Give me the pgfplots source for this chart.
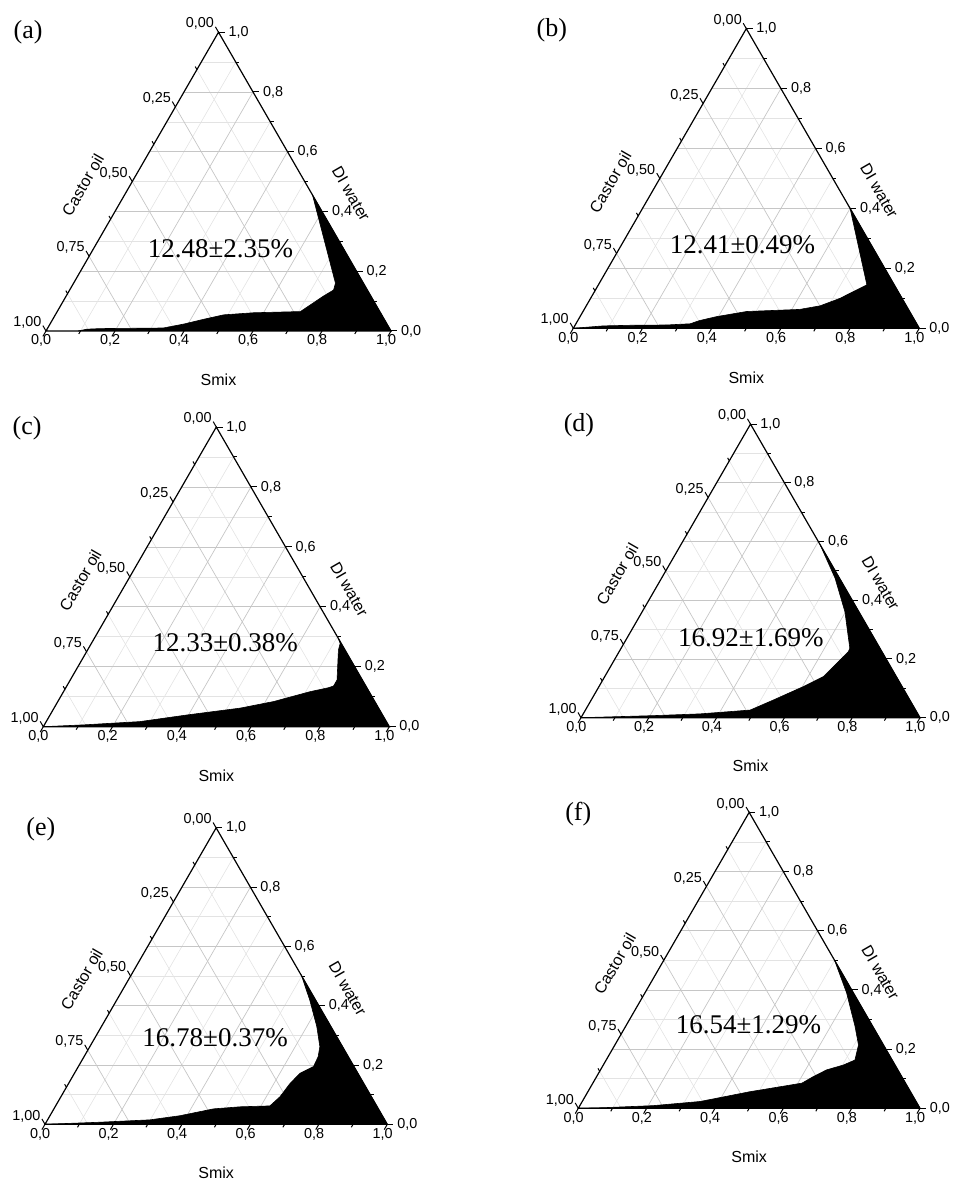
\documentclass[border=0pt]{standalone}
\usepackage{pgfplots}
\usepackage{pgfplotstable}
\pgfplotsset{compat=1.18}
\usepackage{fontspec}
\setmainfont{Liberation Serif}
\setsansfont{Liberation Sans}

% phase boundaries: s = Smix, w = DI water (oil = 1-s-w)
\pgfplotstableread{
s w
0.093 0.000
0.115 0.006
0.153 0.008
0.335 0.010
0.387 0.023
0.437 0.039
0.488 0.054
0.571 0.061
0.705 0.065
0.746 0.117
0.765 0.137
0.759 0.160
0.545 0.455
1.000 0.000
}\dataA
\pgfplotstableread{
s w
0.000 0.000
0.083 0.008
0.159 0.010
0.264 0.011
0.330 0.015
0.353 0.026
0.395 0.039
0.473 0.056
0.623 0.063
0.676 0.075
0.721 0.100
0.755 0.128
0.776 0.145
0.600 0.400
1.000 0.000
}\dataB
\pgfplotstableread{
s w
0.000 0.000
0.113 0.006
0.271 0.017
0.395 0.039
0.538 0.062
0.624 0.084
0.713 0.117
0.759 0.130
0.771 0.136
0.771 0.156
0.725 0.256
0.719 0.278
0.705 0.295
1.000 0.000
}\dataC
\pgfplotstableread{
s w
0.000 0.000
0.210 0.007
0.345 0.013
0.486 0.026
0.537 0.060
0.603 0.106
0.645 0.140
0.666 0.196
0.676 0.225
0.675 0.236
0.598 0.361
0.512 0.475
0.410 0.590
1.000 0.000
}\dataD
\pgfplotstableread{
s w
0.000 0.000
0.157 0.007
0.299 0.015
0.380 0.029
0.466 0.052
0.540 0.059
0.626 0.062
0.640 0.093
0.647 0.138
0.659 0.172
0.687 0.195
0.684 0.228
0.672 0.262
0.629 0.330
0.564 0.419
0.500 0.500
1.000 0.000
}\dataE
\pgfplotstableread{
s w
0.000 0.000
0.072 0.002
0.215 0.009
0.345 0.023
0.474 0.056
0.612 0.085
0.634 0.107
0.662 0.130
0.702 0.146
0.728 0.163
0.713 0.214
0.672 0.276
0.591 0.389
0.500 0.500
1.000 0.000
}\dataF

\tikzset{
  minorgrid/.style={gray!22, line width=0.3pt},
  majorgrid/.style={gray!45, line width=0.35pt},
  tk/.style={black, line width=0.5pt},
  ticklab/.style={font=\sffamily\fontsize{7.2}{8}\selectfont, inner sep=0pt},
  ttl/.style={font=\sffamily\fontsize{8}{9}\selectfont, inner sep=0pt},
  pct/.style={font=\fontsize{13.5}{16}\selectfont, inner sep=0pt},
  letter/.style={font=\fontsize{13}{15}\selectfont, inner sep=0pt},
}
\pgfplotsset{
  tern panel/.style={hide axis, clip=false, anchor=south west,
    xmin=0, xmax=1, ymin=0, ymax=0.8660254},
}

% grid of the triangle (unit side, Smix at the right vertex, water at the top)
\newcommand\terngrid{%
  \pgfplotsinvokeforeach{0.1,0.3,0.5,0.7,0.9}{%
    \draw[minorgrid] ({##1/2},{0.8660254*##1}) -- ({1-##1/2},{0.8660254*##1});
    \draw[minorgrid] (##1,0) -- ({(1+##1)/2},{0.8660254*(1-##1)});
  }
  \pgfplotsinvokeforeach{0.125,0.375,0.625,0.875}{%
    \draw[minorgrid] ({0.5*(1-##1)},{0.8660254*(1-##1)}) -- ({1-##1},0);
  }
  \pgfplotsinvokeforeach{0.2,0.4,0.6,0.8}{%
    \draw[majorgrid] ({##1/2},{0.8660254*##1}) -- ({1-##1/2},{0.8660254*##1});
    \draw[majorgrid] (##1,0) -- ({(1+##1)/2},{0.8660254*(1-##1)});
  }
  \pgfplotsinvokeforeach{0.25,0.5,0.75}{%
    \draw[majorgrid] ({0.5*(1-##1)},{0.8660254*(1-##1)}) -- ({1-##1},0);
  }
}

% frame, ticks, tick labels and axis titles
\newcommand\ternaxes{%
  \draw[black, line width=0.6pt, line join=miter] (0,0) -- (1,0) -- (0.5,0.8660254) -- cycle;
  % Smix (bottom)
  \pgfplotsinvokeforeach{0,2,4,6,8,10}{%
    \draw[tk] ({##1/10},0) -- ({##1/10-0.009},-0.0156);
  }
  \pgfplotsinvokeforeach{1,3,5,7,9}{%
    \draw[tk] ({##1/10},0) -- ({##1/10-0.005},-0.0087);
  }
  \pgfplotsinvokeforeach{0,2,4,6,8}{%
    \node[ticklab, anchor=north] at ({##1/10-0.014},-0.01) {0,##1};
  }
  \node[ticklab, anchor=north] at (0.986,-0.01) {1,0};
  % DI water (right)
  \pgfplotsinvokeforeach{0,2,4,6,8,10}{%
    \draw[tk] ({1-##1/20},{0.08660254*##1}) -- ({1-##1/20+0.018},{0.08660254*##1});
  }
  \pgfplotsinvokeforeach{1,3,5,7,9}{%
    \draw[tk] ({1-##1/20},{0.08660254*##1}) -- ({1-##1/20+0.01},{0.08660254*##1});
  }
  \pgfplotsinvokeforeach{0,2,4,6,8}{%
    \node[ticklab, anchor=west] at ({1-##1/20+0.028},{0.08660254*##1}) {0,##1};
  }
  \node[ticklab, anchor=west] at (0.528,0.8660254) {1,0};
  % Castor oil (left)
  \pgfplotsinvokeforeach{0,25,50,75,100}{%
    \draw[tk] ({0.5*(1-##1/100)},{0.8660254*(1-##1/100)}) -- ({0.5*(1-##1/100)-0.009},{0.8660254*(1-##1/100)+0.0156});
  }
  \pgfplotsinvokeforeach{12.5,37.5,62.5,87.5}{%
    \draw[tk] ({0.5*(1-##1/100)},{0.8660254*(1-##1/100)}) -- ({0.5*(1-##1/100)-0.005},{0.8660254*(1-##1/100)+0.0087});
  }
  \pgfplotsinvokeforeach{00,25,50,75}{%
    \node[ticklab, anchor=south east] at ({0.5*(1-##1/100)-0.012},{0.8660254*(1-##1/100)+0.006}) {0,##1};
  }
  \node[ticklab, anchor=south east] at (-0.012,0.006) {1,00};
  % titles
  \node[ttl, rotate=60] at (0.107,0.423) {Castor oil};
  \node[ttl, rotate=-60] at (0.884,0.397) {DI water};
  \node[ttl] at (0.5,-0.142) {Smix};
}

\begin{document}
\begin{tikzpicture}
\useasboundingbox (0,0) rectangle (476pt,590.5pt);

% (a)
\begin{axis}[tern panel, at={(23pt,425pt)}, x=172.5pt, y=172.5pt]
  \terngrid
  \addplot[draw=black, fill=black, line width=0.3pt]
    table[x expr=\thisrow{s}+0.5*\thisrow{w}, y expr=0.8660254*\thisrow{w}] {\dataA};
  \ternaxes
  \node[pct] at (0.506,0.238) {12.48±2.35\%};
  \node[letter] at (-0.052,0.867) {(a)};
\end{axis}

% (b)
\begin{axis}[tern panel, at={(286.65pt,426.35pt)}, x=173pt, y=173pt]
  \terngrid
  \addplot[draw=black, fill=black, line width=0.3pt]
    table[x expr=\thisrow{s}+0.5*\thisrow{w}, y expr=0.8660254*\thisrow{w}] {\dataB};
  \ternaxes
  \node[pct] at (0.489,0.241) {12.41±0.49\%};
  \node[letter] at (-0.062,0.862) {(b)};
\end{axis}

% (c)
\begin{axis}[tern panel, at={(21.65pt,227.15pt)}, x=173pt, y=173pt]
  \terngrid
  \addplot[draw=black, fill=black, line width=0.3pt]
    table[x expr=\thisrow{s}+0.5*\thisrow{w}, y expr=0.8660254*\thisrow{w}] {\dataC};
  \ternaxes
  \node[pct] at (0.526,0.242) {12.33±0.38\%};
  \node[letter] at (-0.047,0.863) {(c)};
\end{axis}

% (d)
\begin{axis}[tern panel, at={(290.5pt,231.65pt)}, x=169.5pt, y=169.5pt]
  \terngrid
  \addplot[draw=black, fill=black, line width=0.3pt]
    table[x expr=\thisrow{s}+0.5*\thisrow{w}, y expr=0.8660254*\thisrow{w}] {\dataD};
  \ternaxes
  \node[pct] at (0.501,0.236) {16.92±1.69\%};
  \node[letter] at (-0.006,0.863) {(d)};
\end{axis}

% (e)
\begin{axis}[tern panel, at={(22.5pt,28.35pt)}, x=171.15pt, y=171.15pt]
  \terngrid
  \addplot[draw=black, fill=black, line width=0.3pt]
    table[x expr=\thisrow{s}+0.5*\thisrow{w}, y expr=0.8660254*\thisrow{w}] {\dataE};
  \ternaxes
  \node[pct] at (0.497,0.254) {16.78±0.37\%};
  \node[letter] at (-0.012,0.861) {(e)};
\end{axis}

% (f)
\begin{axis}[tern panel, at={(289.15pt,36.35pt)}, x=170.85pt, y=170.85pt]
  \terngrid
  \addplot[draw=black, fill=black, line width=0.3pt]
    table[x expr=\thisrow{s}+0.5*\thisrow{w}, y expr=0.8660254*\thisrow{w}] {\dataF};
  \ternaxes
  \node[pct] at (0.498,0.244) {16.54±1.29\%};
  \node[letter] at (0.0,0.861) {(f)};
\end{axis}

\end{tikzpicture}
\end{document}
